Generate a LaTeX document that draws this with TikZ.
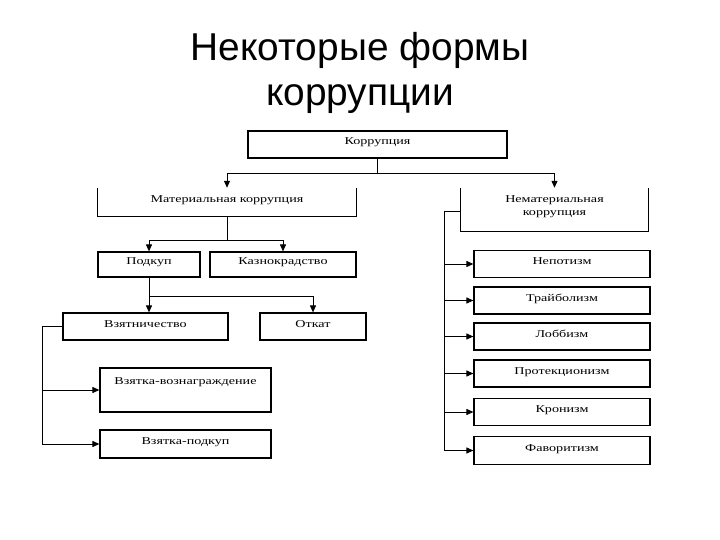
\documentclass[tikz,border=0pt]{standalone}
\usepackage{fontspec}
\setmainfont{Liberation Serif}
\newfontfamily\titlefont{Liberation Sans}
\newfontfamily\boxfont[FakeStretch=1.35]{Liberation Serif}
\usetikzlibrary{arrows.meta}
\tikzset{
  box/.style={draw, line width=1.2pt, inner sep=0pt, font=\boxfont\fontsize{10.5}{12.5}\selectfont, align=center, text height=6bp, text depth=5bp},
  openbox/.style={inner sep=0pt, font=\boxfont\fontsize{10.5}{12.5}\selectfont, align=center},
  conn/.style={line width=1pt},
  arr/.style={line width=1pt, -{Triangle[length=7bp,width=6bp]}},
  ttl/.style={font=\titlefont\fontsize{39}{44}\selectfont, anchor=base}
}
\begin{document}
\begin{tikzpicture}[x=1bp,y=-1bp]
\useasboundingbox (0,0) rectangle (720,540);
\fill[white] (0,0) rectangle (720,540);
% title
\node[ttl] (t1) at (360,61) {Некоторые формы};
\node[ttl] (t2) at (360,106) {коррупции};
% boxes
\node[box, minimum width=259bp, minimum height=27bp] (kor) at (377.5,144.5) {Коррупция};
\node[openbox, minimum width=258bp, minimum height=28bp, text height=6bp, text depth=5bp] (mat) at (227,202) {Материальная коррупция};
\draw[line width=1.2pt] (mat.north west) -- (mat.south west) -- (mat.south east) -- (mat.north east);
\node[openbox, minimum width=187bp, minimum height=43bp] (nem) at (554.5,209.5) {};
\node[openbox, anchor=north] (nemt) at ([yshift=-8bp]nem.north) {Нематериальная\\коррупция};
\draw[line width=1.2pt] (nem.north west) -- (nem.south west) -- (nem.south east) -- (nem.north east);
\node[box, minimum width=102bp, minimum height=25bp] (pod) at (149,264.5) {Подкуп};
\node[box, minimum width=146bp, minimum height=25bp] (kaz) at (283,264.5) {Казнокрадство};
\node[box, minimum width=165bp, minimum height=27bp] (vzn) at (145.5,326.5) {Взятничество};
\node[box, minimum width=106bp, minimum height=27bp] (otk) at (313,326.5) {Откат};
\node[box, minimum width=171bp, minimum height=44bp] (voz) at (185.5,390) {};
\node[openbox, anchor=north] (vozt) at ([yshift=-10bp]voz.north) {Взятка-вознаграждение};
\node[box, minimum width=171bp, minimum height=28bp] (vpd) at (185.5,444) {Взятка-подкуп};
% right column
\node[box, minimum width=176bp, minimum height=27bp] (nep) at (562,264) {Непотизм};
\node[box, minimum width=176bp, minimum height=27bp] (tra) at (562,300.5) {Трайболизм};
\node[box, minimum width=176bp, minimum height=27bp] (lob) at (562,336.5) {Лоббизм};
\node[box, minimum width=176bp, minimum height=27bp] (pro) at (562,373.5) {Протекционизм};
\node[box, minimum width=176bp, minimum height=27bp] (kro) at (562,412) {Кронизм};
\node[box, minimum width=176bp, minimum height=28bp] (fav) at (562,450.5) {Фаворитизм};
% connectors
\coordinate (j1) at (377.5,173);
\draw[conn] (kor.south) -- (j1);
\draw[arr] (j1) -| (mat.north);
\draw[arr] (j1) -| (nem.north);
\coordinate (j2) at (227,240);
\draw[conn] (mat.south) -- (j2);
\draw[arr] (j2) -| (pod.north);
\draw[arr] (j2) -| (kaz.north);
\draw[arr] (pod.south) -- (pod.south |- vzn.north);
\coordinate (j3) at (149,296);
\draw[arr] (j3) -| (otk.north);
\coordinate (lv) at (42,326.5);
\draw[conn] (vzn.west) -- (lv);
\draw[conn] (lv) -- (42,444);
\draw[arr] (lv |- voz.west) -- (voz.west);
\draw[arr] (42,444) -- (vpd.west);
\coordinate (rv) at (444,211);
\draw[conn] (nem.west |- rv) -- (rv);
\draw[conn] (rv) -- (444,450.5);
\foreach \n in {nep,tra,lob,pro,kro,fav}
  \draw[arr] (rv |- \n.west) -- (\n.west);
\end{tikzpicture}
\end{document}
